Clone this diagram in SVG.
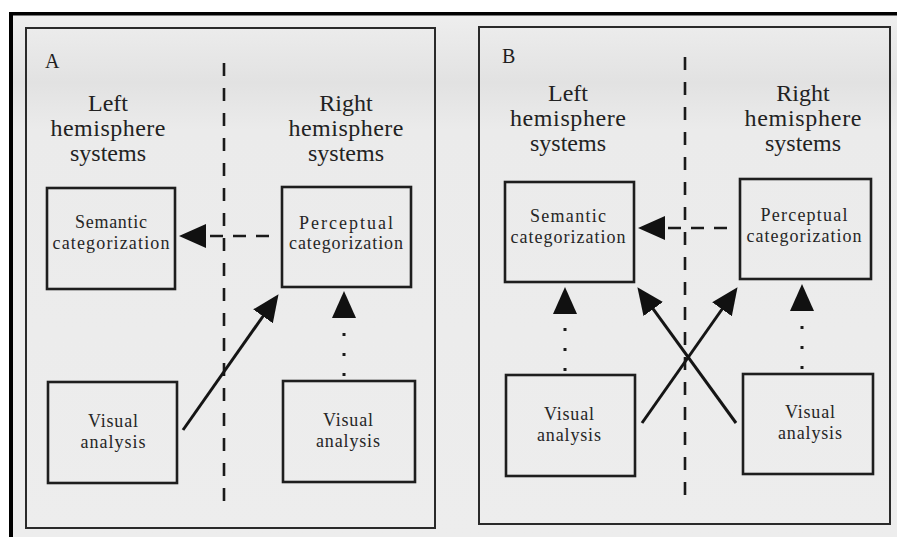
<svg xmlns="http://www.w3.org/2000/svg" width="897" height="537" viewBox="0 0 897 537">
<style>
.panel{fill:none;stroke:#2a2a2a;stroke-width:2}
.box{fill:none;stroke:#1e1e1e;stroke-width:2.6}
.hdr{font-family:"Liberation Serif","Times New Roman",serif;font-size:24px;fill:#222;text-anchor:middle}
.lbl{font-family:"Liberation Serif","Times New Roman",serif;font-size:18px;fill:#262626;text-anchor:middle}
.tag{font-family:"Liberation Serif","Times New Roman",serif;font-size:20px;fill:#1e1e1e}
.divider{stroke:#1a1a1a;stroke-width:2.6;stroke-dasharray:13 12;fill:none}
.dash{stroke:#1a1a1a;stroke-width:2.6;stroke-dasharray:13 10;fill:none;marker-end:url(#head)}
.dot{stroke:#1a1a1a;stroke-width:3;stroke-dasharray:3 17;fill:none;marker-end:url(#head)}
.solid{stroke:#151515;stroke-width:3;fill:none;marker-end:url(#head)}
</style>
<defs>
<linearGradient id="bg" x1="0" y1="0" x2="0" y2="1">
<stop offset="0" stop-color="#eeeeee"/>
<stop offset="0.13" stop-color="#e2e2e2"/>
<stop offset="0.22" stop-color="#ebebeb"/>
<stop offset="1" stop-color="#ededed"/>
</linearGradient>
<marker id="head" viewBox="0 0 27 26" refX="4" refY="13" markerWidth="27" markerHeight="26" markerUnits="userSpaceOnUse" orient="auto">
<path d="M0,1 L27,13 L0,25 Z" fill="#111"/>
</marker>
</defs>
<rect x="0" y="0" width="897" height="537" fill="#ffffff"/>
<rect x="13" y="15" width="884" height="522" fill="url(#bg)"/>
<rect x="9" y="12" width="888" height="3.5" fill="#000"/>
<rect x="9" y="12" width="4" height="525" fill="#000"/>

<g id="panelA">
<rect class="panel" x="26" y="28" width="409" height="500"/>
<text class="tag" x="45" y="68">A</text>
<line class="divider" x1="224" y1="63" x2="224" y2="508"/>
<text class="hdr" x="108" y="111">Left</text>
<text class="hdr" x="108" y="136" textLength="115">hemisphere</text>
<text class="hdr" x="108" y="161">systems</text>
<text class="hdr" x="346" y="111">Right</text>
<text class="hdr" x="346" y="136" textLength="115">hemisphere</text>
<text class="hdr" x="346" y="161">systems</text>
</g>
<g id="A-semantic">
<rect class="box" x="47" y="188" width="128" height="101"/>
<text class="lbl" x="111" y="227.5" textLength="72">Semantic</text>
<text class="lbl" x="111" y="248.5" textLength="117">categorization</text>
</g>
<g id="A-perceptual">
<rect class="box" x="282" y="187" width="129" height="100"/>
<text class="lbl" x="346" y="228.5" textLength="94">Perceptual</text>
<text class="lbl" x="346" y="249" textLength="114">categorization</text>
</g>
<g id="A-visual-left">
<rect class="box" x="48" y="382" width="129" height="101"/>
<text class="lbl" x="113" y="427" textLength="50">Visual</text>
<text class="lbl" x="113" y="448" textLength="65">analysis</text>
</g>
<g id="A-visual-right">
<rect class="box" x="283" y="381" width="132" height="101"/>
<text class="lbl" x="348" y="425.5" textLength="50">Visual</text>
<text class="lbl" x="348" y="446.5" textLength="64">analysis</text>
</g>

<g id="panelB">
<rect class="panel" x="479" y="27" width="411" height="497"/>
<text class="tag" x="502" y="63">B</text>
<line class="divider" x1="685" y1="57" x2="685" y2="501"/>
<text class="hdr" x="568" y="101">Left</text>
<text class="hdr" x="568" y="126" textLength="116">hemisphere</text>
<text class="hdr" x="568" y="151">systems</text>
<text class="hdr" x="803" y="101">Right</text>
<text class="hdr" x="803" y="126" textLength="117">hemisphere</text>
<text class="hdr" x="803" y="151">systems</text>
</g>
<g id="B-semantic">
<rect class="box" x="505" y="182" width="129" height="100"/>
<text class="lbl" x="568" y="221.5" textLength="76">Semantic</text>
<text class="lbl" x="568" y="242.5" textLength="115">categorization</text>
</g>
<g id="B-perceptual">
<rect class="box" x="740" y="179" width="131" height="100"/>
<text class="lbl" x="804" y="221" textLength="87">Perceptual</text>
<text class="lbl" x="804" y="242" textLength="115">categorization</text>
</g>
<g id="B-visual-left">
<rect class="box" x="506" y="375" width="129" height="101"/>
<text class="lbl" x="569" y="419.5" textLength="50">Visual</text>
<text class="lbl" x="569" y="440.5" textLength="64">analysis</text>
</g>
<g id="B-visual-right">
<rect class="box" x="743" y="374" width="130" height="100"/>
<text class="lbl" x="810" y="417.5" textLength="50">Visual</text>
<text class="lbl" x="810" y="438.5" textLength="64">analysis</text>
</g>

<g id="connectors">
<line class="dash" x1="269" y1="236" x2="202" y2="236"/>
<line class="dot" x1="344" y1="376" x2="344" y2="314"/>
<line class="solid" x1="183" y1="430" x2="265.3" y2="313"/>
<line class="dash" x1="727" y1="228" x2="661" y2="228"/>
<line class="dot" x1="565" y1="371" x2="565" y2="310"/>
<line class="dot" x1="802" y1="369" x2="802" y2="307"/>
<line class="solid" x1="642" y1="423" x2="724.3" y2="306"/>
<line class="solid" x1="736" y1="423" x2="650.9" y2="305.8"/>
</g>
</svg>
